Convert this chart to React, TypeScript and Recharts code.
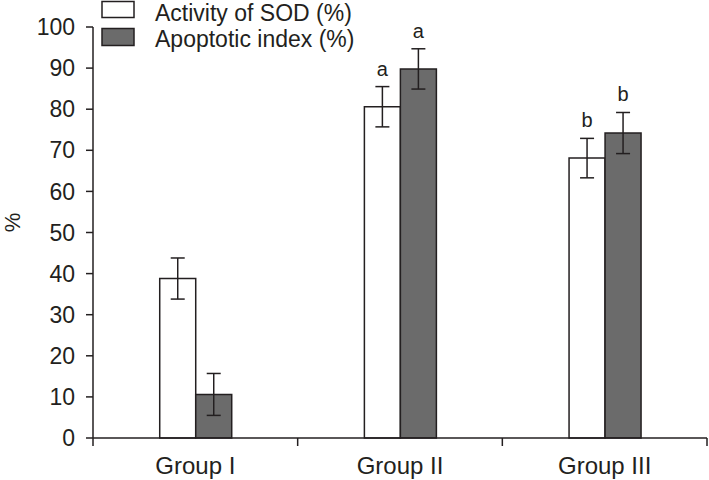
import React from 'react';
import {
  BarChart,
  Bar,
  XAxis,
  YAxis,
  ErrorBar,
  LabelList,
  Legend,
} from 'recharts';

const groups = ['Group I', 'Group II', 'Group III'];
const sodValues = [38.8, 80.6, 68.1];
const sodErrors = [5, 4.9, 4.8];
const apoValues = [10.6, 89.8, 74.2];
const apoErrors = [5.1, 4.9, 5];
const sodMarks = ['', 'a', 'b'];
const apoMarks = ['', 'a', 'b'];
const yTicks = [0, 10, 20, 30, 40, 50, 60, 70, 80, 90, 100];

const data = groups.map((g, i) => ({
  group: g,
  sod: sodValues[i],
  sodErr: sodErrors[i],
  sodMark: sodMarks[i],
  apo: apoValues[i],
  apoErr: apoErrors[i],
  apoMark: apoMarks[i],
}));

const FONT = '"Liberation Sans", Arial, sans-serif';
const INK = '#231f20';
const DARK = '#6b6b6b';

const TICK_SIZE = 8;
const TICK_MARGIN = 11;

// category labels centred, tick marks on the category borders
const GroupTick = (props: any) => {
  const { x, y, payload, index, width, visibleTicksCount } = props;
  const count = visibleTicksCount || groups.length;
  const band = width / count;
  const axisY = y - TICK_SIZE - TICK_MARGIN;
  return (
    <g>
      <line x1={x - band / 2} x2={x - band / 2} y1={axisY} y2={axisY + TICK_SIZE} stroke={INK} strokeWidth={1.5} />
      {index === count - 1 && (
        <line x1={x + band / 2} x2={x + band / 2} y1={axisY} y2={axisY + TICK_SIZE} stroke={INK} strokeWidth={1.5} />
      )}
      <text x={x} y={y} dy="0.71em" textAnchor="middle" fontSize={24} fontFamily={FONT} fill={INK}>
        {payload.value}
      </text>
    </g>
  );
};

// significance letter above the error bar
const markLabel = (values: number[], errors: number[]) => (props: any) => {
  const { x, y, width, height, value, index } = props;
  if (!value) return null;
  const pxPerUnit = height / values[index];
  const top = y - errors[index] * pxPerUnit;
  return (
    <text x={x + width / 2} y={top - 11} textAnchor="middle" fontSize={20} fontFamily={FONT} fill={INK}>
      {value}
    </text>
  );
};

const PercentLabel = (props: any) => {
  const { viewBox } = props;
  const cy = viewBox.y + viewBox.height / 2 - 10;
  return (
    <text x={20} y={cy} transform={`rotate(-90, 20, ${cy})`} textAnchor="middle" fontSize={22} fontFamily={FONT} fill={INK}>
      %
    </text>
  );
};

const LegendBox = () => (
  <svg width={320} height={52} style={{ display: 'block', overflow: 'visible' }}>
    <rect x={7} y={1.5} width={32} height={16} fill="#fff" stroke={INK} strokeWidth={1.5} />
    <text x={60} y={21} fontSize={23} fontFamily={FONT} fill={INK}>Activity of SOD (%)</text>
    <rect x={7} y={28.5} width={32} height={17} fill={DARK} stroke={INK} strokeWidth={1.5} />
    <text x={60} y={47} fontSize={23} fontFamily={FONT} fill={INK}>Apoptotic index (%)</text>
  </svg>
);

export default function App() {
  return (
    <div style={{ position: 'absolute', left: 0, top: 0, background: '#fff' }}>
      <BarChart
        width={709}
        height={480}
        data={data}
        margin={{ top: 27, right: 2, bottom: 0, left: 0 }}
        barGap={0}
        barCategoryGap="32.6%"
      >
        <XAxis
          dataKey="group"
          height={42}
          axisLine={{ stroke: INK, strokeWidth: 1.5 }}
          tickLine={false}
          tickSize={TICK_SIZE}
          tickMargin={TICK_MARGIN}
          tick={<GroupTick />}
          interval={0}
        />
        <YAxis
          width={93}
          domain={[0, 100]}
          ticks={yTicks}
          interval={0}
          axisLine={{ stroke: INK, strokeWidth: 1.5 }}
          tickLine={{ stroke: INK, strokeWidth: 1.5 }}
          tickSize={7}
          tickMargin={11}
          tick={{ fontSize: 23, fontFamily: FONT, fill: INK }}
          label={<PercentLabel />}
        />
        <Legend
          layout="horizontal"
          verticalAlign="middle"
          align="center"
          content={<LegendBox />}
          wrapperStyle={{ top: 0, left: 95, width: 320, height: 52 }}
        />
        <Bar dataKey="sod" fill="#fff" stroke={INK} strokeWidth={1.5} isAnimationActive={false}>
          <ErrorBar dataKey="sodErr" width={7} stroke={INK} strokeWidth={1.5} />
          <LabelList dataKey="sodMark" content={markLabel(sodValues, sodErrors)} />
        </Bar>
        <Bar dataKey="apo" fill={DARK} stroke={INK} strokeWidth={1.5} isAnimationActive={false}>
          <ErrorBar dataKey="apoErr" width={7} stroke={INK} strokeWidth={1.5} />
          <LabelList dataKey="apoMark" content={markLabel(apoValues, apoErrors)} />
        </Bar>
      </BarChart>
    </div>
  );
}
